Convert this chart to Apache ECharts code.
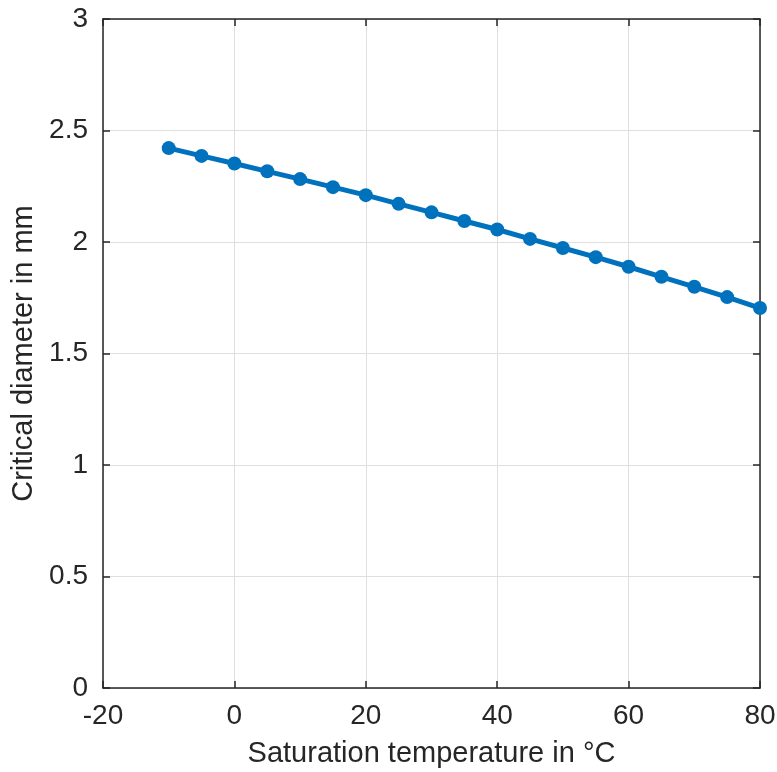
<!DOCTYPE html>
<html>
<head>
<meta charset="utf-8">
<script src="https://cdn.jsdelivr.net/npm/echarts@6/dist/echarts.min.js"></script>
<style>
  html, body { margin: 0; padding: 0; background: #fff; }
  #chart { width: 777px; height: 772px; }
</style>
</head>
<body>
<div id="chart"></div>
<script>
// Saturation temperature (°C) and resulting critical diameter (mm)
const temperatures = [-10, -5, 0, 5, 10, 15, 20, 25, 30, 35, 40, 45, 50, 55, 60, 65, 70, 75, 80];
const diameters = [2.421, 2.386, 2.352, 2.317, 2.282, 2.246, 2.210, 2.171, 2.133, 2.094, 2.056, 2.014, 1.973, 1.932, 1.889, 1.844, 1.799, 1.753, 1.704];
const xTicks = { min: -20, max: 80, step: 20 };
const yTicks = { min: 0, max: 3, step: 0.5 };

const points = temperatures.map((t, i) => [t, diameters[i]]);

const axisColor = '#262626';
const font = 'Arial, "Liberation Sans", Helvetica, sans-serif';
const tickFont = 28;
const nameFont = 29;

const chart = echarts.init(document.getElementById('chart'), null, { renderer: 'canvas' });

// Mirror axes on the top and right close the box and repeat the inward ticks
const frameAxis = {
  axisLine: { show: true, onZero: false, lineStyle: { color: axisColor, width: 1.5 } },
  axisTick: { show: true, inside: true, length: 7, lineStyle: { color: axisColor, width: 1.5 } },
  splitLine: { show: false },
  axisLabel: { show: false }
};

chart.setOption({
  animation: false,
  backgroundColor: '#ffffff',
  grid: { left: 103, right: 17, top: 19, bottom: 84, containLabel: false, outerBoundsMode: 'none' },
  xAxis: [
    {
      type: 'value', position: 'bottom',
      min: xTicks.min, max: xTicks.max, interval: xTicks.step,
      name: 'Saturation temperature in °C',
      nameLocation: 'middle', nameGap: 51,
      nameTextStyle: { color: axisColor, fontSize: nameFont, fontFamily: font },
      axisLine: { show: true, onZero: false, lineStyle: { color: axisColor, width: 1.5 } },
      axisTick: { show: true, inside: true, length: 7, lineStyle: { color: axisColor, width: 1.5 } },
      axisLabel: { color: axisColor, fontSize: tickFont, fontFamily: font, margin: 14 },
      splitLine: { show: true, lineStyle: { color: '#dfdfdf', width: 1 } }
    },
    Object.assign({ type: 'value', position: 'top', min: xTicks.min, max: xTicks.max, interval: xTicks.step }, frameAxis)
  ],
  yAxis: [
    {
      type: 'value', position: 'left',
      min: yTicks.min, max: yTicks.max, interval: yTicks.step,
      name: 'Critical diameter in mm',
      nameLocation: 'middle', nameGap: 60,
      nameTextStyle: { color: axisColor, fontSize: nameFont, fontFamily: font },
      axisLine: { show: true, onZero: false, lineStyle: { color: axisColor, width: 1.5 } },
      axisTick: { show: true, inside: true, length: 7, lineStyle: { color: axisColor, width: 1.5 } },
      axisLabel: { color: axisColor, fontSize: tickFont, fontFamily: font, margin: 15 },
      splitLine: { show: true, lineStyle: { color: '#dfdfdf', width: 1 } }
    },
    Object.assign({ type: 'value', position: 'right', min: yTicks.min, max: yTicks.max, interval: yTicks.step }, frameAxis)
  ],
  series: [
    {
      type: 'line',
      xAxisIndex: 0, yAxisIndex: 0,
      data: points,
      symbol: 'circle',
      symbolSize: 14,
      lineStyle: { color: '#0072BD', width: 5 },
      itemStyle: { color: '#0072BD' },
      clip: false
    }
  ]
});
</script>
</body>
</html>
